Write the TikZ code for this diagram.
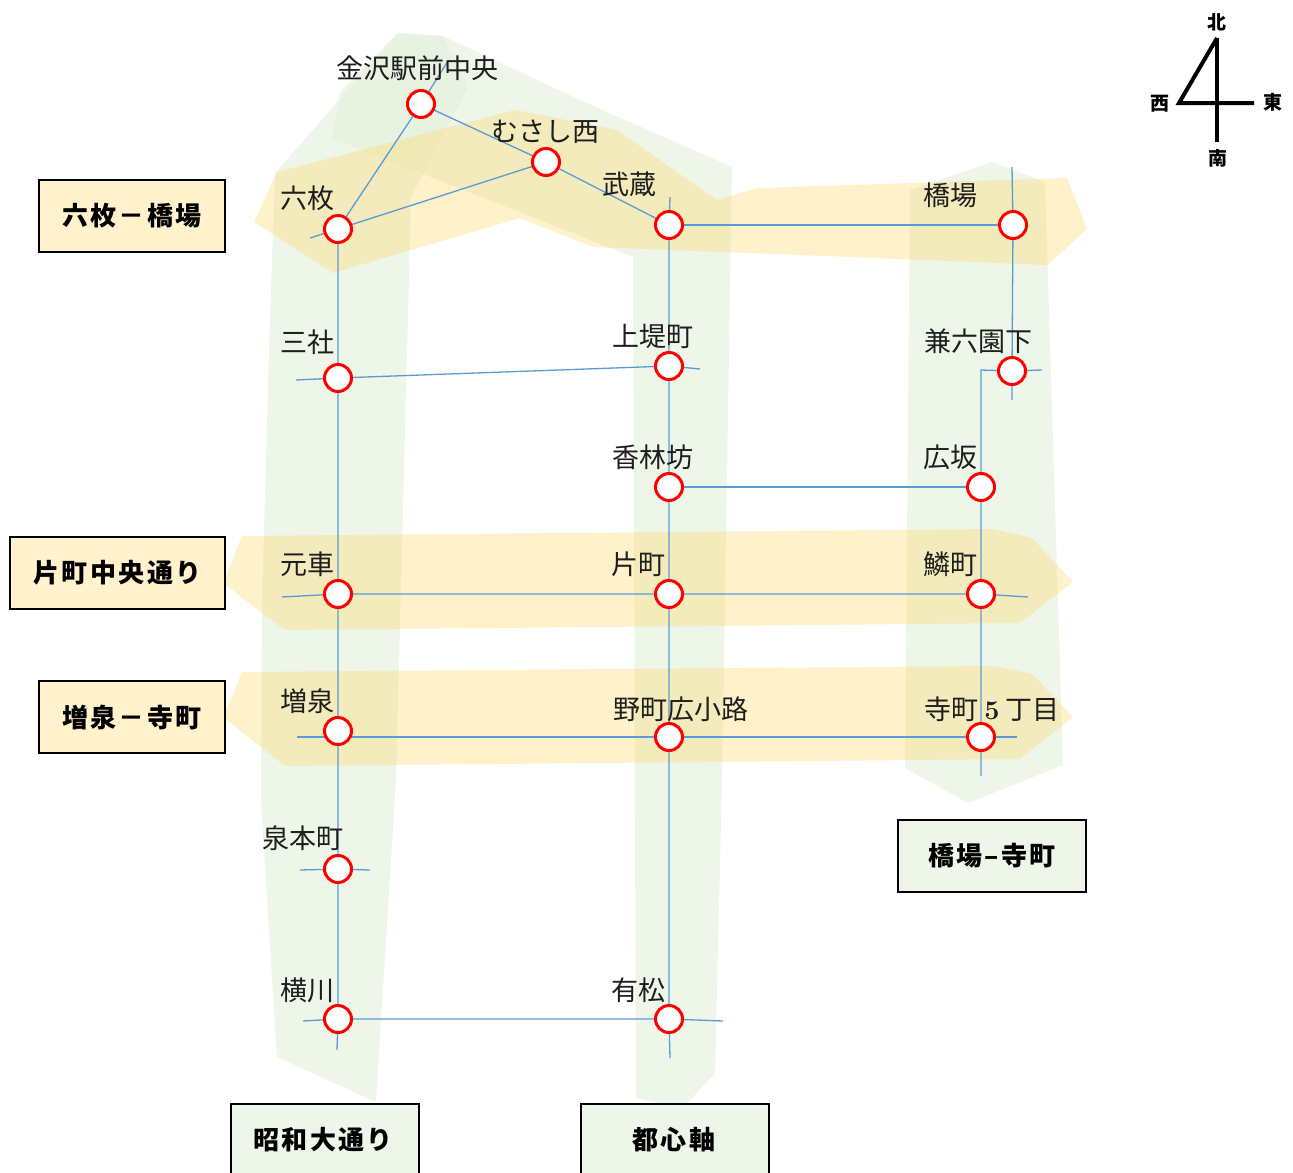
\documentclass[tikz,border=0pt]{standalone}
\usepackage{fontspec}
\newfontfamily\cjk{Noto Sans CJK JP}
\newfontfamily\cjkbox{Noto Sans CJK JP}[LetterSpace=9]
\definecolor{bandgreen}{RGB}{226,239,218}
\definecolor{bandyellow}{RGB}{255,217,102}
\definecolor{linkblue}{RGB}{91,155,213}
\definecolor{boxyellow}{RGB}{255,242,204}
\definecolor{boxgreen}{RGB}{238,245,233}
\definecolor{inkgray}{RGB}{30,30,30}
\pgfdeclarelayer{bands}
\pgfdeclarelayer{lines}
\pgfsetlayers{bands,lines,main}
\begin{document}
\begin{tikzpicture}[x=1bp,y=-1bp,
  st/.style={circle,draw=red,line width=3bp,fill=white,minimum size=27bp,inner sep=0pt},
  lbl/.style={font=\cjk\fontsize{27bp}{30bp}\selectfont,text=inkgray,inner sep=0pt},
  link/.style={draw=linkblue,line width=1.3bp},
  gband/.style={fill=bandgreen,fill opacity=0.6},
  yband/.style={fill=bandyellow,fill opacity=0.35},
  boxfont/.style={font=\cjkbox\bfseries\fontsize{26bp}{30bp}\selectfont},
  namebox/.style={draw=black,line width=2.5bp,minimum height=72bp,inner sep=0pt,boxfont},
  cmp/.style={font=\cjk\bfseries\fontsize{19bp}{22bp}\selectfont,inner sep=0pt}]
\useasboundingbox (0,0) rectangle (1293,1173);

% ---------- bands ----------
\begin{pgfonlayer}{bands}
% green: Showa-odori
\path[gband] (275,173) -- (398,33) -- (443,36) -- (468,87) -- (411,197) -- (396,780)
  -- (376,1102) -- (277,1057) -- (261,800) -- (262,600) -- (270,320) -- cycle;
% green: toshin-jiku
\path[gband] (332,138) -- (340,92) -- (398,33) -- (443,36) -- (580,100) -- (732,167)
  -- (722,780) -- (715,1073) -- (683,1108) -- (636,1098) -- (633,257) -- cycle;
% green: Hashiba-Teramachi
\path[gband] (910,190) -- (992,162) -- (1045,182) -- (1063,765) -- (968,803) -- (905,768) -- cycle;
% yellow: Rokumai-Hashiba
\path[yband] (254,222) -- (277,172) -- (515,110) -- (617,130) -- (717,200) -- (757,188)
  -- (1067,178) -- (1087,229) -- (1048,265) -- (800,255) -- (593,247) -- (520,218) -- (333,273) -- cycle;
% yellow: Katamachi
\path[yband] (242,536) -- (993,529) -- (1032,538) -- (1073,582) -- (1020,623) -- (285,630) -- (223,583) -- cycle;
% yellow: Masuizumi-Teramachi
\path[yband] (242,672) -- (993,666) -- (1032,674) -- (1073,717) -- (1020,759) -- (285,766) -- (223,717) -- cycle;
\end{pgfonlayer}

% ---------- stations ----------
\node[st] (kanazawa) at (421,104) {};
\node[st] (musashinishi) at (546,162) {};
\node[st] (rokumai) at (338,229) {};
\node[st] (musashi) at (669,225) {};
\node[st] (hashiba) at (1013,225) {};
\node[st] (sanja) at (338,378) {};
\node[st] (kamitsutsumi) at (669,366) {};
\node[st] (kenroku) at (1012,371) {};
\node[st] (korinbo) at (669,487) {};
\node[st] (hirosaka) at (981,487) {};
\node[st] (motoguruma) at (338,594) {};
\node[st] (katamachi) at (669,594) {};
\node[st] (uroko) at (981,594) {};
\node[st] (masuizumi) at (338,731) {};
\node[st] (nomachi) at (669,737) {};
\node[st] (teramachi) at (981,737) {};
\node[st] (izumihon) at (338,869) {};
\node[st] (yokogawa) at (338,1019) {};
\node[st] (arimatsu) at (669,1019) {};

% free ends
\coordinate (kzN) at (448,61);
\coordinate (rokuW) at (310,238);
\coordinate (showaS) at (337,1050);
\coordinate (toshinN) at (670,197);
\coordinate (toshinS) at (670,1058);
\coordinate (hashibaN) at (1012,167);
\coordinate (kenrokuS) at (1012,400);
\coordinate (kenrokuE) at (1042,370);
\coordinate (kenrokuW) at (981,370);
\coordinate (teraS) at (981,776);
\coordinate (sanjaW) at (296,380);
\coordinate (kamiE) at (700,369);
\coordinate (motoW) at (282,597);
\coordinate (urokoE) at (1028,597);
\coordinate (masuW) at (297,737);
\coordinate (teraE) at (1017,737);
\coordinate (izumiW) at (300,870);
\coordinate (izumiE) at (370,870);
\coordinate (yokoW) at (303,1021);
\coordinate (ariE) at (723,1021);

% ---------- lines ----------
\begin{pgfonlayer}{lines}
\draw[link] (kzN) -- (kanazawa.center) -- (rokumai.center);
\draw[link] (kanazawa.center) -- (musashinishi.center) -- (musashi.center);
\draw[link] (rokuW) -- (rokumai.center) -- (musashinishi.center);
\draw[link] (musashi.center) -- (hashiba.center);
\draw[link] (rokumai.center) -- (sanja.center) -- (motoguruma.center) -- (masuizumi.center)
  -- (izumihon.center) -- (yokogawa.center) -- (showaS);
\draw[link] (toshinN) -- (musashi.center) -- (kamitsutsumi.center) -- (korinbo.center)
  -- (katamachi.center) -- (nomachi.center) -- (arimatsu.center) -- (toshinS);
\draw[link] (hashibaN) -- (hashiba.center) -- (kenroku.center) -- (kenrokuS);
\draw[link] (kenrokuE) -- (kenroku.center) -- (kenrokuW) -- (hirosaka.center) -- (uroko.center)
  -- (teramachi.center) -- (teraS);
\draw[link] (sanjaW) -- (sanja.center) -- (kamitsutsumi.center) -- (kamiE);
\draw[link] (korinbo.center) -- (hirosaka.center);
\draw[link] (motoW) -- (motoguruma.center) -- (katamachi.center) -- (uroko.center) -- (urokoE);
\draw[link] (masuW) -- (nomachi.center) -- (teramachi.center) -- (teraE);
\draw[link] (izumiW) -- (izumihon.center) -- (izumiE);
\draw[link] (yokoW) -- (yokogawa.center) -- (arimatsu.center) -- (ariE);
\end{pgfonlayer}

% ---------- station labels ----------
\node[lbl] (l-kanazawa) at (417,68) {金沢駅前中央};
\node[lbl] (l-musashinishi) at (545,132) {むさし西};
\node[lbl] (l-rokumai) at (307,198) {六枚};
\node[lbl] (l-musashi) at (629,184) {武蔵};
\node[lbl] (l-hashiba) at (950,195) {橋場};
\node[lbl] (l-sanja) at (307,342) {三社};
\node[lbl] (l-kamitsutsumi) at (653,336) {上堤町};
\node[lbl] (l-kenroku) at (978,341) {兼六園下};
\node[lbl] (l-korinbo) at (653,457) {香林坊};
\node[lbl] (l-hirosaka) at (950,457) {広坂};
\node[lbl] (l-motoguruma) at (307,564) {元車};
\node[lbl] (l-katamachi) at (638,564) {片町};
\node[lbl] (l-uroko) at (950,564) {鱗町};
\node[lbl] (l-masuizumi) at (307,701) {増泉};
\node[lbl] (l-nomachi) at (681,709) {野町広小路};
\node[lbl] (l-teramachi) at (992,709) {寺町 {\rmfamily\bfseries 5} 丁目};
\node[lbl] (l-izumihon) at (303,838) {泉本町};
\node[lbl] (l-yokogawa) at (307,990) {横川};
\node[lbl] (l-arimatsu) at (638,990) {有松};

% ---------- route name boxes ----------
\node[namebox,fill=boxyellow,minimum width=186bp] (b-rokumai) at (132,216) {六枚－橋場};
\node[namebox,fill=boxyellow,minimum width=215bp] (b-katamachi) at (117.5,573) {片町中央通り};
\node[namebox,fill=boxyellow,minimum width=186bp] (b-masuizumi) at (132,717) {増泉－寺町};
\node[namebox,fill=boxgreen,minimum width=188bp] (b-hashiba) at (992,856) {橋場–寺町};
\node[namebox,fill=boxgreen,minimum width=188bp,minimum height=76bp] (b-showa) at (325,1142) {};
\node[boxfont,inner sep=0pt] (t-showa) at (323,1140) {昭和大通り};
\node[namebox,fill=boxgreen,minimum width=188bp,minimum height=76bp] (b-toshin) at (675,1142) {};
\node[boxfont,inner sep=0pt] (t-toshin) at (674,1140) {都心軸};

% ---------- compass ----------
\node[cmp] (n-north) at (1217,22) {北};
\node[cmp] (n-west) at (1160,104) {西};
\node[cmp] (n-east) at (1273,102) {東};
\node[cmp] (n-south) at (1218,158) {南};
\coordinate (c-top) at (1217,38);
\coordinate (c-bot) at (1217,142);
\coordinate (c-west) at (1179,103);
\coordinate (c-east) at (1254,103);
\draw[line width=4bp] (c-bot) -- (c-top);
\draw[line width=4bp] (c-top) -- (c-west) -- (c-east);
\end{tikzpicture}
\end{document}
